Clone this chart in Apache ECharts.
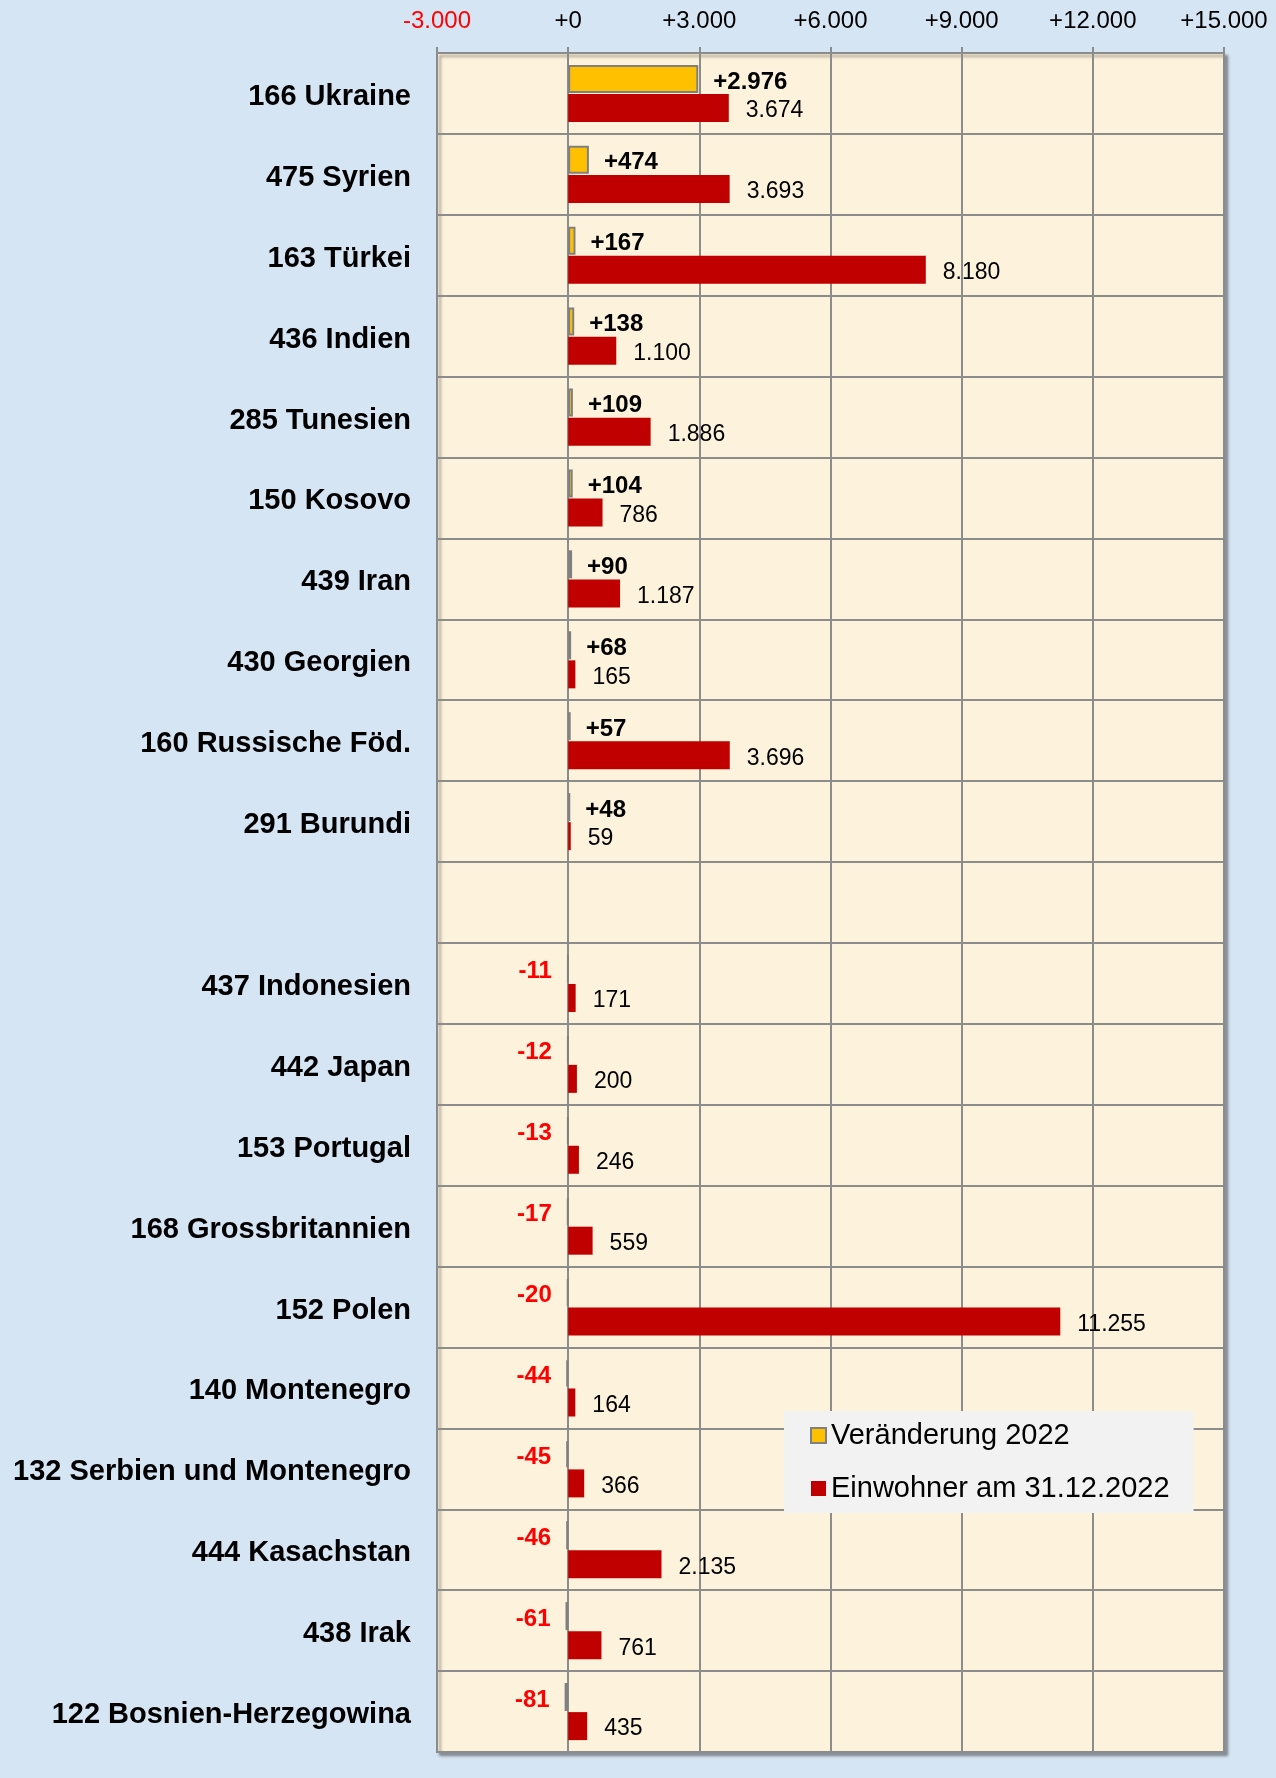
<!DOCTYPE html>
<html>
<head>
<meta charset="utf-8">
<script src="https://cdn.jsdelivr.net/npm/echarts@6/dist/echarts.min.js"></script>
<style>
  html, body { margin: 0; padding: 0; background: #d6e5f4; }
  #chart { width: 1276px; height: 1778px; }
</style>
</head>
<body>
<div id="chart"></div>
<script>
// Kategorien von oben nach unten (leere Zeile trennt Zu- und Abnahme)
var countries = [
  '166 Ukraine', '475 Syrien', '163 Türkei', '436 Indien', '285 Tunesien',
  '150 Kosovo', '439 Iran', '430 Georgien', '160 Russische Föd.', '291 Burundi',
  '',
  '437 Indonesien', '442 Japan', '153 Portugal', '168 Grossbritannien', '152 Polen',
  '140 Montenegro', '132 Serbien und Montenegro', '444 Kasachstan', '438 Irak', '122 Bosnien-Herzegowina'
]
var change2022 = [2976, 474, 167, 138, 109, 104, 90, 68, 57, 48, null,
  -11, -12, -13, -17, -20, -44, -45, -46, -61, -81]
var residents = [3674, 3693, 8180, 1100, 1886, 786, 1187, 165, 3696, 59, null,
  171, 200, 246, 559, 11255, 164, 366, 2135, 761, 435]
var xTicks = [-3000, 0, 3000, 6000, 9000, 12000, 15000]

function fmt(v) {
  return String(Math.abs(v)).replace(/\B(?=(\d{3})+(?!\d))/g, '.')
}

var changeData = change2022.map(function(v) {
  if (v === null) return '-'
  return {
    value: v,
    label: {
      position: v < 0 ? 'left' : 'right',
      color: v < 0 ? '#ff0000' : '#000000'
    }
  }
})
var residentData = residents.map(function(v) { return v === null ? '-' : v })

var chart = echarts.init(document.getElementById('chart'))
chart.setOption({
  backgroundColor: '#d6e5f4',
  textStyle: { fontFamily: 'Liberation Sans, Arial, sans-serif' },
  grid: {
    left: 437, right: 52, top: 53, bottom: 26,
    show: true,
    backgroundColor: '#fdf2dc',
    borderColor: '#8c8c8c',
    borderWidth: 2,
    shadowColor: 'rgba(0,0,0,0.35)',
    shadowBlur: 3,
    shadowOffsetX: 3,
    shadowOffsetY: 3
  },
  legend: {
    orient: 'vertical',
    left: 784,
    top: 1411,
    padding: [10, 24, 10, 26],
    itemGap: 24,
    itemWidth: 15,
    itemHeight: 15,
    backgroundColor: '#f2f2f2',
    textStyle: { fontSize: 29, color: '#000' },
    data: [
      { name: 'Veränderung 2022', icon: 'rect' },
      { name: 'Einwohner am 31.12.2022', icon: 'rect' }
    ]
  },
  xAxis: {
    type: 'value',
    position: 'top',
    min: xTicks[0],
    max: xTicks[xTicks.length - 1],
    interval: 3000,
    axisLine: { show: true, lineStyle: { color: '#8c8c8c', width: 2 } },
    axisTick: { show: true, length: 6, lineStyle: { color: '#8c8c8c', width: 2 } },
    axisLabel: {
      fontSize: 24,
      margin: 20,
      color: function(v) { return v < 0 ? '#ff0000' : '#000000' },
      formatter: function(v) { return (v < 0 ? '-' : '+') + fmt(v) }
    },
    splitLine: { show: true, lineStyle: { color: '#8c8c8c', width: 2 } }
  },
  yAxis: {
    type: 'category',
    inverse: true,
    data: countries,
    axisLine: { show: false },
    axisTick: { show: false },
    axisLabel: {
      margin: 26,
      formatter: function(v) { return v ? '{n|' + v + '}' : '' },
      rich: {
        n: { fontSize: 29, fontWeight: 'bold', color: '#000', padding: [7, 0, 0, 0] }
      }
    },
    splitLine: { show: true, lineStyle: { color: '#8c8c8c', width: 2 } }
  },
  series: [
    {
      name: 'Veränderung 2022',
      type: 'bar',
      barWidth: 28,
      barGap: '4%',
      data: changeData,
      itemStyle: { color: '#ffc000', borderColor: '#808080', borderWidth: 2 },
      label: {
        show: true,
        distance: 15,
        offset: [0, 3],
        fontSize: 24,
        fontWeight: 'bold',
        formatter: function(p) { return (p.value < 0 ? '-' : '+') + fmt(p.value) }
      }
    },
    {
      name: 'Einwohner am 31.12.2022',
      type: 'bar',
      barWidth: 28,
      data: residentData,
      itemStyle: { color: '#c00000' },
      label: {
        show: true,
        position: 'right',
        distance: 17,
        offset: [0, 3],
        fontSize: 23,
        color: '#000',
        formatter: function(p) { return fmt(p.value) }
      }
    }
  ]
})
</script>
</body>
</html>
